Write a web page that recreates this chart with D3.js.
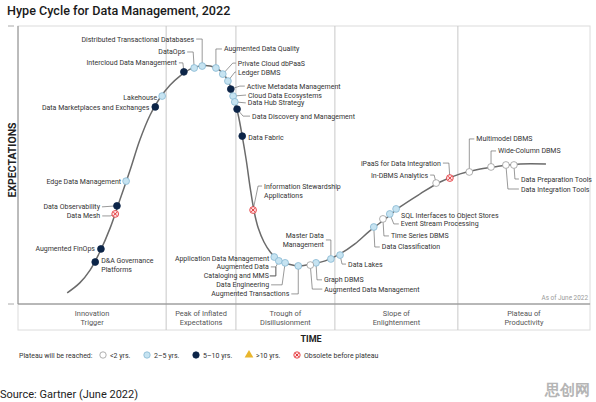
<!DOCTYPE html>
<html><head><meta charset="utf-8">
<script src="https://cdn.jsdelivr.net/npm/d3@7"></script>
<style>body{margin:0;background:#fff} svg{display:block} text{font-family:Roboto,"Noto Sans",sans-serif}</style>
</head><body><svg id="c" width="596" height="402"></svg>
<script>
// ---------- data ----------
const phaseNames = [["Innovation","Trigger"],["Peak of Inflated","Expectations"],["Trough of","Disillusionment"],["Slope of","Enlightenment"],["Plateau of","Productivity"]];
const phaseBounds = [0, 25.9, 38.1, 55.4, 76.9, 100];

const curveX = [8.6,10.8,12.6,14.3,16.1,17.8,19.6,21.3,23.1,24.8,26.6,28.3,30.1,31.8,33.6,35.0,36.2,37.1,37.8,38.5,39.2,39.9,40.6,41.3,42.0,43.0,44.1,45.5,47.2,49.3,51.4,53.7,56.3,58.9,61.5,64.2,66.8,70.3,73.8,77.3,80.8,84.3,87.8,92.3];
const curveY = [4.0,7.6,12.2,18.7,27.3,37.4,48.2,59.0,68.0,74.1,78.8,82.0,84.5,85.6,85.6,84.5,82.0,78.4,73.4,68.0,60.4,51.8,41.7,33.1,27.3,22.3,18.7,15.8,14.4,13.7,14.4,15.5,18.0,21.6,26.3,30.6,34.9,39.6,43.9,46.8,48.6,49.6,50.4,50.4];

const techNames = ["Distributed Transactional Databases","DataOps","Intercloud Data Management","Augmented Data Quality","Private Cloud dbPaaS","Ledger DBMS","Active Metadata Management","Cloud Data Ecosystems","Data Hub Strategy","Data Discovery and Management","Data Fabric","Lakehouse","Data Marketplaces and Exchanges","Edge Data Management","Data Observability","Data Mesh","Augmented FinOps","D&A Governance Platforms","Information Stewardship Applications","Application Data Management","Augmented Data Cataloging and MMS","Data Engineering","Augmented Transactions","Graph DBMS","Augmented Data Management","Master Data Management","Data Lakes","Data Classification","Time Series DBMS","Event Stream Processing","SQL Interfaces to Object Stores","In-DBMS Analytics","iPaaS for Data Integration","Multimodel DBMS","Wide-Column DBMS","Data Preparation Tools","Data Integration Tools"];
const techX = [32.2,30.8,29.0,34.6,35.8,36.7,37.2,37.6,37.9,38.3,39.2,25.2,24.0,18.9,17.3,17.0,14.5,13.5,41.1,44.8,45.6,46.7,49.0,52.1,51.1,54.7,56.3,62.2,63.8,65.0,66.1,73.1,75.5,78.9,82.7,86.7,85.3];
const techY = [85.6,84.9,83.5,84.9,82.7,80.2,77.3,74.8,72.7,70.1,60.4,74.8,70.9,44.2,35.3,32.4,19.8,15.1,33.8,16.9,15.5,14.8,13.7,14.8,14.0,16.2,17.6,27.7,30.6,32.4,34.2,43.5,45.3,47.5,49.3,50.0,50.0];
const techPlateau = ["2-5","2-5","5-10","2-5","2-5","2-5","5-10","2-5","2-5","5-10","5-10","2-5","5-10","2-5","5-10","obs","5-10","5-10","obs","2-5","2-5","2-5","2-5","2-5","<2","2-5","2-5","2-5","<2","2-5","2-5","<2","obs","<2","<2","<2","<2"];

const legendKeys = ["<2","2-5","5-10",">10","obs"];
const legendLabels = ["<2 yrs.","2\u20135 yrs.","5\u201310 yrs.",">10 yrs.","Obsolete before plateau"];

// ---------- layout (label placement, px offsets from dot) ----------
const labelLayout = {
 "Distributed Transactional Databases":{a:"end",dx:-8,dy:-27,p:[[-6,-27],[0,-27],[0,0]]},
 "DataOps":{a:"end",dx:-9,dy:-16,p:[[-7,-16],[-1,-16],[0,0]]},
 "Intercloud Data Management":{a:"end",dx:-7,dy:-9,p:[[-5,-9],[-1,-9],[0,0]]},
 "Augmented Data Quality":{a:"start",dx:8,dy:-19,p:[[6,-19],[0,-19],[0,0]]},
 "Private Cloud dbPaaS":{a:"start",dx:15,dy:-11,p:[[13,-11],[10,-11],[0,0]]},
 "Ledger DBMS":{a:"start",dx:10,dy:-9,p:[[8,-9],[7,-9],[0,0]]},
 "Active Metadata Management":{a:"start",dx:16,dy:-3,p:[[14,-3],[9,-3],[0,0]]},
 "Cloud Data Ecosystems":{a:"start",dx:15,dy:-1,p:[[13,-1],[0,0]]},
 "Data Hub Strategy":{a:"start",dx:13,dy:1,p:[[11,1],[0,0]]},
 "Data Discovery and Management":{a:"start",dx:15,dy:7,p:[[13,7],[6,7],[0,0]]},
 "Data Fabric":{a:"start",dx:6,dy:1},
 "Lakehouse":{a:"end",dx:-5,dy:1},
 "Data Marketplaces and Exchanges":{a:"end",dx:-6,dy:1},
 "Edge Data Management":{a:"end",dx:-5,dy:0},
 "Data Observability":{a:"end",dx:-17,dy:1,p:[[-15,1],[0,0]]},
 "Data Mesh":{a:"end",dx:-15,dy:2,p:[[-13,2],[-5,2],[0,0]]},
 "Augmented FinOps":{a:"end",dx:-6,dy:0},
 "D&A Governance Platforms":{a:"start",dx:6,dy:-2,lines:["D&A Governance","Platforms"]},
 "Information Stewardship Applications":{a:"start",dx:11,dy:-24,lines:["Information Stewardship","Applications"],p:[[9,-24],[5,-24],[0,0]]},
 "Application Data Management":{a:"end",dx:-5,dy:1},
 "Augmented Data Cataloging and MMS":{a:"end",dx:-10,dy:6,lines:["Augmented Data","Cataloging and MMS"],p:[[-8,6],[-3,6],[-3,15],[-9,15],[-3,15],[-3,6],[0,0]]},
 "Data Engineering":{a:"end",dx:-16,dy:22,p:[[-14,22],[-3,22],[0,0]]},
 "Augmented Transactions":{a:"end",dx:-9,dy:28,p:[[-7,28],[0,28],[0,0]]},
 "Graph DBMS":{a:"start",dx:8,dy:17,p:[[6,17],[1,17],[0,0]]},
 "Augmented Data Management":{a:"start",dx:14,dy:24,p:[[12,24],[2,24],[0,0]]},
 "Master Data Management":{a:"end",dx:-7,dy:-23,lines:["Master Data","Management"],p:[[-5,-19],[0,-19],[0,0]]},
 "Data Lakes":{a:"start",dx:8,dy:9,p:[[6,9],[2,9],[0,0]]},
 "Data Classification":{a:"start",dx:8,dy:20,p:[[6,20],[1,20],[0,0]]},
 "Time Series DBMS":{a:"start",dx:8,dy:17,p:[[6,17],[1,17],[0,0]]},
 "Event Stream Processing":{a:"start",dx:11,dy:10,p:[[9,10],[4,10],[0,0]]},
 "SQL Interfaces to Object Stores":{a:"start",dx:5,dy:7},
 "In-DBMS Analytics":{a:"end",dx:-8,dy:-8,p:[[-6,-8],[-2,-8],[0,0]]},
 "iPaaS for Data Integration":{a:"end",dx:-9,dy:-15,p:[[-7,-15],[-1,-15],[0,0]]},
 "Multimodel DBMS":{a:"start",dx:7,dy:-33,p:[[5,-33],[0,-33],[0,0]]},
 "Wide-Column DBMS":{a:"start",dx:7,dy:-16,p:[[5,-16],[0,-16],[0,0]]},
 "Data Preparation Tools":{a:"start",dx:7,dy:14,p:[[5,14],[1,14],[0,0]]},
 "Data Integration Tools":{a:"start",dx:15,dy:24,p:[[13,24],[2,24],[0,0]]}
};

const styles = {
 "<2":{fill:"#ffffff",stroke:"#9a9a9a"},
 "2-5":{fill:"#c6e3f1",stroke:"#86b8d2"},
 "5-10":{fill:"#0c2548",stroke:"#0c2548"},
 ">10":{fill:"#e9b62d",stroke:"#e9b62d"},
 "obs":{fill:"#fde3e3",stroke:"#e2262b"}
};

const svg = d3.select("#c");
const L = 18, R = 590, T = 26, B = 304;
const x = d3.scaleLinear().domain([0,100]).range([L,R]);
const y = d3.scaleLinear().domain([0,100]).range([B,T]);

// title
svg.append("text").attr("x",7).attr("y",15).attr("font-size",12.6).attr("font-weight",500).attr("fill","#1a1a1a").text("Hype Cycle for Data Management, 2022");

// frame
svg.append("rect").attr("x",L).attr("y",T).attr("width",R-L).attr("height",B-T).attr("fill","none").attr("stroke","#dcdcdc").attr("stroke-width",1);
svg.append("rect").attr("x",L).attr("y",B).attr("width",R-L).attr("height",26).attr("fill","none").attr("stroke","#dcdcdc").attr("stroke-width",1);
svg.selectAll("line.div").data(phaseBounds.slice(1,-1)).join("line").attr("class","div")
 .attr("x1",d=>x(d)).attr("x2",d=>x(d)).attr("y1",T).attr("y2",B+26).attr("stroke","#c8c8c8").attr("stroke-width",1);
svg.append("line").attr("x1",L).attr("x2",L).attr("y1",T).attr("y2",B).attr("stroke","#8a8a8a").attr("stroke-width",1);
svg.append("line").attr("x1",L).attr("x2",R).attr("y1",B).attr("y2",B).attr("stroke","#8a8a8a").attr("stroke-width",1);
[T,B].forEach(v=>svg.append("line").attr("x1",8).attr("x2",14).attr("y1",v).attr("y2",v).attr("stroke","#aaa").attr("stroke-width",1));

// phase labels
phaseNames.forEach((nm,i)=>{
  const cx = (x(phaseBounds[i])+x(phaseBounds[i+1]))/2;
  const t = svg.append("text").attr("text-anchor","middle").attr("font-size",7.4).attr("fill","#555");
  nm.forEach((ln,j)=>t.append("tspan").attr("x",cx).attr("y",316+j*9).text(ln));
});

// axis titles
svg.append("text").attr("x",311).attr("y",342).attr("text-anchor","middle").attr("font-size",9).attr("font-weight",700).attr("fill","#222").text("TIME");
svg.append("text").attr("transform","translate(16,160) rotate(-90)").attr("text-anchor","middle").attr("font-size",10.5).attr("font-weight",700).attr("fill","#222").text("EXPECTATIONS");

svg.append("text").attr("x",588).attr("y",300).attr("text-anchor","end").attr("font-size",6.4).attr("fill","#9a9a9a").text("As of June 2022");

// curve
const pts = curveX.map((v,i)=>[v,curveY[i]]);
svg.append("path").attr("d",d3.line().x(d=>x(d[0])).y(d=>y(d[1])).curve(d3.curveCatmullRom)(pts))
 .attr("fill","none").attr("stroke","#6b6b6b").attr("stroke-width",1.5);

// leaders and labels
const techs = techNames.map((n,i)=>({name:n,x:techX[i],y:techY[i],k:techPlateau[i]}));
const gL = svg.append("g"), gT = svg.append("g"), gD = svg.append("g");
techs.forEach(t=>{
  const lay = labelLayout[t.name]; const px = x(t.x), py = y(t.y);
  if(lay.p){
    gL.append("path").attr("d",d3.line()(lay.p.map(q=>[px+q[0],py+q[1]]))).attr("fill","none").attr("stroke","#555").attr("stroke-width",0.6);
  }
  const lines = lay.lines || [t.name];
  const tx = gT.append("text").attr("text-anchor",lay.a).attr("font-size",7).attr("fill","#333");
  lines.forEach((ln,j)=>tx.append("tspan").attr("x",px+lay.dx).attr("y",py+lay.dy+j*9+2.5).text(ln));
});

function drawSym(g,k,cx,cy,r){
  const s = styles[k];
  if(k===">10"){
    g.append("path").attr("d",d3.symbol(d3.symbolTriangle, r*r*3.2)()).attr("transform",`translate(${cx},${cy})`).attr("fill",s.fill);
    return;
  }
  g.append("circle").attr("cx",cx).attr("cy",cy).attr("r",r).attr("fill",s.fill).attr("stroke",s.stroke).attr("stroke-width",0.8);
  if(k==="obs"){
    const q = r*0.55;
    g.append("path").attr("d",`M${cx-q},${cy-q}L${cx+q},${cy+q}M${cx-q},${cy+q}L${cx+q},${cy-q}`).attr("stroke",s.stroke).attr("stroke-width",0.9);
  }
}
techs.forEach(t=>drawSym(gD,t.k,x(t.x),y(t.y),3.4));

// legend
const lg = svg.append("g");
lg.append("text").attr("x",19).attr("y",357.5).attr("font-size",7).attr("fill","#333").text("Plateau will be reached:");
const legX = [103,147,196,249,297];
legendKeys.forEach((k,i)=>{
  drawSym(lg,k,legX[i],355,3.2);
  lg.append("text").attr("x",legX[i]+7).attr("y",357.5).attr("font-size",7).attr("fill","#333").text(legendLabels[i]);
});

// source and watermark
svg.append("text").attr("x",0).attr("y",398).attr("font-family","Liberation Sans, Arial, sans-serif").attr("font-size",11).attr("fill","#222").text("Source: Gartner (June 2022)");
svg.append("text").attr("x",590).attr("y",395).attr("text-anchor","end").attr("font-family","Noto Sans CJK SC").attr("font-weight",700).attr("font-size",15).attr("fill","#b5b5b5").text("思创网");
</script></body></html>
